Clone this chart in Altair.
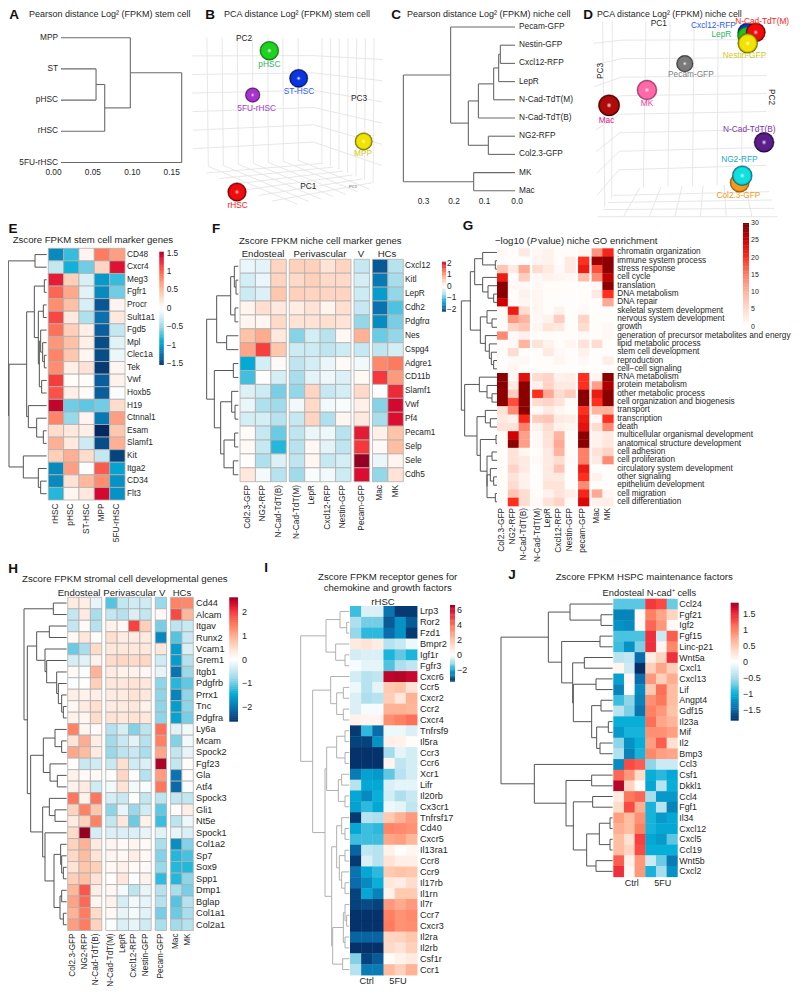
import altair as alt
import numpy as np

FONT = "Liberation Sans"
INK = "#262626"
OFF = 8  # page margin

layers = []

# ---------- colour scales ----------
Z_FRAC = [-1, -.8, -.55, -.3, -.1, 0, .12, .3, .55, .75, .9, 1]
Z_COL = ["#05326a", "#0a6cab", "#05aed8", "#9fdaea", "#e0f2f7", "#ffffff",
         "#ffeae0", "#ffc4a8", "#ff7f62", "#f73c3c", "#d90a30", "#970022"]
GO_DOM = [0, 5, 10, 15, 20, 25, 30]
GO_COL = ["#ffffff", "#ffdcd0", "#ffb4a0", "#ff7f69", "#ff2e1e", "#d20000", "#7a0000"]


def zscale(vmin, vmax):
    dom = [f * (vmax if f > 0 else -vmin) for f in Z_FRAC]
    return alt.Scale(domain=dom, range=Z_COL, interpolate="rgb")


GO_SCALE = alt.Scale(domain=GO_DOM, range=GO_COL, interpolate="rgb")


def sc(d0, d1, r0, r1):
    return alt.Scale(domain=[d0, d1], range=[r0 - OFF, r1 - OFF], nice=False, zero=False)


def text(s, x, y, size=8.3, color=INK, align="center", angle=None, bold=False, italic=False):
    kw = dict(font=FONT, fontSize=size, align=align, baseline="middle", color=color)
    if angle is not None:
        kw["angle"] = angle
    if bold:
        kw["fontWeight"] = "bold"
    if italic:
        kw["fontStyle"] = "italic"
    layers.append(alt.Chart(alt.Data(values=[{"t": s}])).mark_text(**kw).encode(
        x=alt.value(x - OFF), y=alt.value(y - OFF), text="t:N"))


def tree_segments(tree, leaf):
    segs = []
    count = [0]

    def walk(n):
        if n == 0:
            y = count[0] + .5
            count[0] += 1
            return leaf, y
        h, a, b = n
        ha, ya = walk(a)
        hb, yb = walk(b)
        segs.append(dict(a=h, b=h, c=ya, d=yb))
        segs.append(dict(a=h, b=ha, c=ya, d=ya))
        segs.append(dict(a=h, b=hb, c=yb, d=yb))
        return h, (ya + yb) / 2

    walk(tree)
    return segs


def segments(segs, xs, ys, color, width):
    layers.append(alt.Chart(alt.Data(values=segs)).mark_rule(color=color, strokeWidth=width).encode(
        x=alt.X("a:Q", scale=xs, axis=None), x2="b:Q",
        y=alt.Y("c:Q", scale=ys, axis=None), y2="d:Q"))


def colorbar(x0, x1, ytop, ybot, vtop, vbot, scale, ticks, labels, lx, size=8.3):
    ys = sc(vbot, vtop, ybot, ytop)
    xs = sc(0, 1, x0, x1)
    n = 64
    edges = np.linspace(vbot, vtop, n + 1)
    step = edges[1] - edges[0]
    cells = [dict(p=0, q=1, v0=float(edges[i]), v1=float(min(edges[i + 1] + step * .25, vtop)),
                  v=float(edges[i] + step / 2)) for i in range(n)]
    layers.append(alt.Chart(alt.Data(values=cells)).mark_rect().encode(
        x=alt.X("p:Q", scale=xs, axis=None), x2="q:Q",
        y=alt.Y("v0:Q", scale=ys, axis=None), y2="v1:Q",
        color=alt.Color("v:Q", scale=scale, legend=None)))
    rows = [dict(v=t, l=l) for t, l in zip(ticks, labels)]
    layers.append(alt.Chart(alt.Data(values=rows)).mark_text(
        font=FONT, fontSize=size, align="left", baseline="middle", color=INK).encode(
        x=alt.value(lx - OFF), y=alt.Y("v:Q", scale=ys, axis=None), text="l:N"))


def heatmap(rows, cols, mat, groups, gap, left, right, top, bottom, scale, stroke, tree, leaf,
            origin, row_x, col_y, row_size=8.3, col_size=8.3, tree_color="#555555", tree_w=1.0):
    nr, nc = len(rows), len(cols)
    cw = (right - left - gap * (len(groups) - 1)) / nc
    starts = []
    g = 0
    for gi, s in enumerate(groups):
        for k in range(s):
            starts.append(g + k + gi * gap / cw)
        g += s
    total = nc + (len(groups) - 1) * gap / cw
    xs = sc(0, total, left, right)
    ys = sc(0, nr, top, bottom)
    bleed = 0 if stroke else .04
    cells = [dict(x0=starts[j], x1=starts[j] + 1 + bleed, y0=i, y1=i + 1 + bleed, v=mat[i][j])
             for i in range(nr) for j in range(nc)]
    mk = dict(stroke=stroke, strokeWidth=.8) if stroke else dict(strokeWidth=0)
    layers.append(alt.Chart(alt.Data(values=cells)).mark_rect(**mk).encode(
        x=alt.X("x0:Q", scale=xs, axis=None), x2="x1:Q",
        y=alt.Y("y0:Q", scale=ys, axis=None), y2="y1:Q",
        color=alt.Color("v:Q", scale=scale, legend=None)))
    layers.append(alt.Chart(alt.Data(values=[dict(y=i + .5, l=r) for i, r in enumerate(rows)])).mark_text(
        font=FONT, fontSize=row_size, align="left", baseline="middle", color=INK).encode(
        x=alt.value(row_x - OFF), y=alt.Y("y:Q", scale=ys, axis=None), text="l:N"))
    if col_y is not None:
        layers.append(alt.Chart(alt.Data(values=[dict(x=starts[j] + .5, l=c) for j, c in enumerate(cols)])).mark_text(
            font=FONT, fontSize=col_size, align="right", baseline="middle", angle=270, color=INK).encode(
            x=alt.X("x:Q", scale=xs, axis=None), y=alt.value(col_y - OFF), text="l:N"))
    width = leaf + 10
    segments(tree_segments(tree, leaf), sc(0, width, origin, origin + width / 3), ys, tree_color, tree_w)


def cluster(rows, tree, leaf, xs, ys, label_x, align, ticks, ticklabels, tick_y):
    segments(tree_segments(tree, leaf), xs, ys, "#6a6a6a", 1.1)
    layers.append(alt.Chart(alt.Data(values=[dict(y=i + .5, l=r) for i, r in enumerate(rows)])).mark_text(
        font=FONT, fontSize=8.3, align=align, baseline="middle", color=INK).encode(
        x=alt.value(label_x - OFF), y=alt.Y("y:Q", scale=ys, axis=None), text="l:N"))
    layers.append(alt.Chart(alt.Data(values=[dict(x=t, l=l) for t, l in zip(ticks, ticklabels)])).mark_text(
        font=FONT, fontSize=8.3, align="center", baseline="middle", color=INK).encode(
        x=alt.X("x:Q", scale=xs, axis=None), y=alt.value(tick_y - OFF), text="l:N"))


def quad_lines(q, nu, nv):
    tl, tr, br, bl = [np.array(p, float) for p in q]
    out = []
    for i in range(1, nu):
        f = i / nu
        a = tl + (tr - tl) * f
        b = bl + (br - bl) * f
        out.append(dict(a=a[0], b=b[0], c=a[1], d=b[1]))
    for i in range(1, nv):
        f = i / nv
        a = tl + (bl - tl) * f
        b = tr + (br - tr) * f
        out.append(dict(a=a[0], b=b[0], c=a[1], d=b[1]))
    return out


def sphere(x, y, r, color, dark, xs, ys):
    grad = dict(gradient="radial", x1=.5, y1=.5, x2=.5, y2=.5, r1=0, r2=.5,
                stops=[dict(offset=0, color="#ffffff"), dict(offset=.24, color=color),
                       dict(offset=.8, color=color), dict(offset=1, color=dark)])
    layers.append(alt.Chart(alt.Data(values=[dict(x=x, y=y)])).mark_circle(
        fill=grad, stroke=dark, strokeWidth=.4, opacity=1, size=(2 * r / 3) ** 2).encode(
        x=alt.X("x:Q", scale=xs, axis=None), y=alt.Y("y:Q", scale=ys, axis=None)))


def point_labels(items, xs, ys, size=8.3):
    for s, x, y, col in items:
        layers.append(alt.Chart(alt.Data(values=[dict(x=x, y=y, l=s)])).mark_text(
            font=FONT, fontSize=size, align="center", baseline="middle", color=col).encode(
            x=alt.X("x:Q", scale=xs, axis=None), y=alt.Y("y:Q", scale=ys, axis=None), text="l:N"))


# ---------- panel letters ----------
PANEL_LETTERS = [("A", 14, 15), ("B", 210, 15), ("C", 396, 15), ("D", 588, 15), ("E", 13, 229),
                 ("F", 216, 229), ("G", 468, 226), ("H", 13, 569), ("I", 266, 568), ("J", 512, 575)]
for s, x, y in PANEL_LETTERS:
    text(s, x, y, size=13.5, color="#111111", bold=True)

# ---------- A ----------
A_ROWS = ["MPP", "ST", "pHSC", "rHSC", "5FU-rHSC"]
A_TREE = (0.1627, (0.0975, 0, (0.065, (0.054, 0, 0), 0)), 0)
A_TICKS = [0.0, 0.05, 0.10, 0.15]
A_TICKLABELS = ["0.00", "0.05", "0.10", "0.15"]
text("Pearson distance Log² (FPKM) stem cell", 29, 14, size=9, align="left")
cluster(A_ROWS, A_TREE, 0.0095, sc(0, .15, 53.5, 171.7), sc(0, 5, 22.1, 178.1), 58, "right",
        A_TICKS, A_TICKLABELS, 172.5)

# ---------- B ----------
text("PCA distance Log² (FPKM) stem cell", 224, 14, size=9, align="left")
bx, by = sc(0, 600, 190, 390), sc(0, 570, 30, 220)
B_WALLS = [([(5, 22), (370, 25), (370, 388), (10, 412)], 8, 7),
           ([(370, 25), (578, 25), (575, 470), (370, 388)], 8, 7),
           ([(10, 412), (370, 388), (575, 470), (285, 530)], 8, 7)]
for q, nu, nv in B_WALLS:
    segments(quad_lines(q, nu, nv), bx, by, "#e4e4e4", .9)
B_SPHERES = [("#1fd21f", "#0a6a10", 238, 62, 28.5), ("#0b35e0", "#04104f", 326, 145, 27.5),
             ("#a832cf", "#3d0f52", 188, 195, 22), ("#f2e400", "#5e5800", 521, 334, 26),
             ("#f40a0a", "#500303", 141, 486, 28)]
for c, d, x, y, r in B_SPHERES:
    sphere(x, y, r, c, d, bx, by)
B_LABELS = [("pHSC", 238, 106, "#2db55d"), ("ST-HSC", 327, 185, "#2f5df5"),
            ("5FU-rHSC", 200, 237, "#a040c0"), ("MPP", 519, 373, "#d6c924"),
            ("rHSC", 143, 527, "#ff2020"), ("PC2", 162, 28, INK), ("PC3", 507, 208, INK),
            ("PC1", 355, 471, INK)]
point_labels(B_LABELS, bx, by)
point_labels([("PC1", 489, 472, "#555555")], bx, by, size=4)

# ---------- C ----------
C_ROWS = ["Pecam-GFP", "Nestin-GFP", "Cxcl12-RFP", "LepR", "N-Cad-TdT(M)", "N-Cad-TdT(B)",
          "NG2-RFP", "Col2.3-GFP", "MK", "Mac"]
C_TREE = (0.366, (0.211, 0, (0.153, (0.120, (0.07, (0.0536, (0.048, 0, 0), 0), 0), 0), (0.0874, 0, 0))),
          (0.1355, 0, 0))
text("Pearson distance Log² (FPKM) niche cell", 407, 14, size=9, align="left")
cluster(C_ROWS, C_TREE, 0, sc(0, .3, 515, 423.5), sc(0, 10, 17.9, 199.9), 519, "left",
        [0.3, 0.2, 0.1, -0.007], ["0.3", "0.2", "0.1", "0.0"], 201.7)

# ---------- D ----------
text("PCA distance Log² (FPKM) niche cell", 597, 13.5, size=8.8, align="left")
dx, dy = sc(0, 645, 585, 792), sc(0, 630, 15, 225)
D_WALLS = [([(115, 20), (565, 20), (565, 505), (105, 520)], 6, 9),
           ([(25, 20), (115, 20), (105, 520), (40, 605)], 3, 9),
           ([(105, 520), (565, 505), (600, 605), (40, 605)], 7, 4)]
for q, nu, nv in D_WALLS:
    segments(quad_lines(q, nu, nv), dx, dy, "#e4e4e4", .9)
segments([dict(a=40, b=600, c=605, d=605)], dx, dy, "#e4e4e4", .9)
D_SPHERES = [("#7a7a7a", "#2a2a2a", 311, 146, 25), ("#ff69a8", "#8a2a58", 193, 225, 30),
             ("#b00a0a", "#3a0000", 75, 271, 32), ("#5a1f8a", "#1c0530", 558, 382, 30),
             ("#f59a20", "#8a4c00", 482, 503, 29), ("#10e0e0", "#056070", 490, 482, 30),
             ("#0b35e0", "#04104f", 505, 52, 28), ("#1fc21f", "#0a6a10", 503, 62, 27),
             ("#f40a0a", "#500303", 532, 52, 29), ("#f2e400", "#5e5800", 507, 85, 30)]
for c, d, x, y, r in D_SPHERES:
    sphere(x, y, r, c, d, dx, dy)
D_LABELS = [("Pecam-GFP", 330, 180, "#808080"), ("MK", 193, 266, "#f0409a"), ("Mac", 67, 318, "#e0218a"),
            ("N-Cad-TdT(B)", 512, 345, "#7a35b0"), ("NG2-RFP", 481, 435, "#20a8c8"),
            ("Col2.3-GFP", 478, 543, "#f09a20"), ("Cxcl12-RFP", 400, 32, "#2f5df5"),
            ("LepR", 425, 60, "#2db55d"), ("Nestin-GFP", 497, 122, "#d6c924"),
            ("N-Cad-TdT(M)", 552, 20, "#ff2020"), ("PC1", 230, 27, INK)]
point_labels(D_LABELS, dx, dy)
text("PC3", 601, 71, angle=270)
text("PC2", 771, 97, angle=90)

# ---------- E ----------
E_ROWS = ["CD48", "Cxcr4", "Meg3", "Fgfr1", "Procr", "Sult1a1", "Fgd5", "Mpl", "Clec1a", "Tek", "Vwf",
          "Hoxb5", "H19", "Ctnnal1", "Esam", "Slamf1", "Kit", "Itga2", "CD34", "Flt3"]
E_COLS = ["rHSC", "pHSC", "ST-HSC", "MPP", "5FU-rHSC"]
E_VALUES = [
    [-1.1, -.75, .1, .9, .7], [-.3, -.85, -.6, .35, 1.4], [1.35, .4, -.2, -1.0, -.75],
    [1.0, .65, -.15, -1.1, -.6], [.8, .5, -.2, -1.4, .1], [1.15, .2, -.4, -1.25, .2],
    [.95, .4, .15, -1.35, -.3], [.75, .5, .15, -1.45, -.15], [.85, .45, .08, -1.45, -.1],
    [.8, .15, .25, -1.55, .08], [1.2, .04, .03, -1.35, .12], [1.1, .15, .05, -1.35, -.03],
    [1.5, -.6, -.65, -.6, .3], [.85, -.5, .1, -1.2, .7], [.3, .2, .15, -1.65, .45],
    [.6, .2, -.25, -1.45, .6], [.4, .6, .3, -.3, -1.5], [-1.1, .7, -.02, 1.05, -.95],
    [-1.1, .25, .55, .8, -1.05], [-.8, .08, .2, 1.45, -1.05]]
E_TREE = (25, (105, 0, 0), (27, (80, (103, (133, 0, 0), (115, (130, 0, 0), (118, (122, 0, (128, 0, (133, 0, 0))), (125, 0, 0)))),
                                (85, 0, (110, 0, (130, 0, 0)))), (70, 0, (115, 0, (122, 0, 0)))))
E_SCALE = zscale(-1.6, 1.6)
text("Zscore FPKM stem cell marker genes", 12.7, 239.5, size=9.6, align="left")
heatmap(E_ROWS, E_COLS, E_VALUES, [5], 0, 48.3, 125, 248.3, 500, E_SCALE, "#b0b0b0", E_TREE, 140, 0, 127, 503.5)
colorbar(159.3, 163.8, 251.7, 365, 1.55, -1.53, E_SCALE, [1.5, 1, .5, 0, -.5, -1, -1.5],
         ["1.5", "1", "0.5", "0", "−0.5", "−1", "−1.5"], 166.7)

# ---------- F ----------
F_ROWS = ["Cxcl12", "Kitl", "LepR", "Cdh2", "Pdgfrα", "Nes", "Cspg4", "Adgre1", "CD11b", "Slamf1", "Vwf",
          "Pf4", "Pecam1", "Selp", "Sele", "Cdh5"]
F_COLS = ["Col2.3-GFP", "NG2-RFP", "N-Cad-TdT(B)", "N-Cad-TdT(M)", "LepR", "Cxcl12-RFP", "Nestin-GFP",
          "Pecam-GFP", "Mac", "MK"]
F_VALUES = [
    [-.15, -.2, .5, .55, .55, .35, .5, -.4, -1.9, -.5],
    [-.3, -.15, .5, .45, .55, .45, .45, -.3, -1.65, -.6],
    [-.35, -.25, .65, .55, .5, .5, .5, -.35, -1.35, -.7],
    [.15, .4, .3, .25, .35, .15, .4, -.4, -1.7, -.95],
    [.15, .12, .45, .35, .35, .4, .35, -.7, -1.5, -.8],
    [.7, .9, .3, -.75, -.3, -.5, .1, .85, -.85, -.7],
    [.95, 1.7, .65, -.35, -.35, -.45, -.35, -.4, -.45, -.3],
    [-1.25, -.3, .07, -.45, -.3, -.15, .07, -.1, 1.2, 1.3],
    [-1, .02, -.3, -.6, -.2, -.12, -.25, .08, 1.75, 1.05],
    [-.25, -.35, -.8, -.7, .5, -.4, -.3, .45, .03, 1.85],
    [-.15, -.55, -.65, -.1, .45, -.1, -.05, .2, -.75, 2.1],
    [-.3, -.3, -.5, -.4, .5, -.55, .12, .3, -.6, 2.05],
    [.05, -.4, -.85, -.45, -.15, -.12, -.5, 1.95, .2, .7],
    [.08, -.4, -1.1, -.5, .1, -.2, -.45, 1.75, .08, .75],
    [.04, -.55, -.25, -.45, .12, -.4, -.3, 2.3, -.15, .15],
    [.3, -.08, -.5, -.65, -.05, -.1, -.35, 2.05, -.7, .35]]
F_TREE = (20, (50, (92, (103, 0, (108, 0, 0)), (105, 0, 0)), (80, 0, 0)),
          (43, (100, 0, 0), (62, (95, 0, (105, 0, 0)), (72, (104, 0, 0), (100, 0, 0)))))
F_SCALE = zscale(-2.2, 2.3)
text("Zscore FPKM niche cell marker genes", 239, 241, size=9.6, align="left")
for s, x in [("Endosteal", 263), ("Perivascular", 320), ("V", 361), ("HCs", 387)]:
    text(s, x, 253.5, size=9.6)
heatmap(F_ROWS, F_COLS, F_VALUES, [3, 4, 1, 2], 3, 240, 403.3, 259.3, 481.7, F_SCALE, "#b0b0b0",
        F_TREE, 115, 200, 405, 485)
colorbar(442, 446, 261.7, 311.7, 2.2, -2.15, F_SCALE, [2, 1, 0, -1, -2], ["2", "1", "0", "−1", "−2"], 447)

# ---------- G ----------
G_ROWS = ["chromatin organization", "immune system process", "stress response", "cell cycle", "translation",
          "DNA metabolism", "DNA repair", "skeletal system development", "nervous system development", "growth",
          "generation of precursor metabolites and energy", "lipid metabolic process", "stem cell development",
          "reproduction", "cell−cell signaling", "RNA metabolism", "protein metabolism", "other metabolic process",
          "cell organization and biogenesis", "transport", "transcription", "death",
          "multicellular organismal development", "anatomical structure development", "cell adhesion",
          "cell proliferation", "circulatory system development", "other signaling", "epithelium development",
          "cell migration", "cell differentiation"]
G_COLS = ["Col2.3-GFP", "NG2-RFP", "N-Cad-TdT(B)", "N-Cad-TdT(M)", "LepR", "Cxcl12-RFP", "Nestin-GFP",
          "pecam-GFP", "Mac", "MK"]
G_VALUES = [
    [1, .5, 3, 1, 2, .5, .5, 1.5, 13, 21], [.5, .3, .3, 1.5, 2, .5, 3, 20, 28, 29],
    [8, 3, 11, 5, 3, .7, 3, 22, 18, 29], [22, .5, 7, 1, 2, 1.5, 1, 9, 14, 26],
    [29, 1, 1, 1, .5, .5, .5, .5, 1, 29], [29, .5, 2, 1.5, .5, .5, .5, .5, 3, 20],
    [25, .5, 1.5, 1.5, .3, .3, .3, .5, .5, 11], [.5, 22, 5, 1.5, .5, 2, .5, 1, .3, .3],
    [.5, 13, 10, 1, 2, 7, .5, 6, .5, .3], [.5, 6, 8, 1.5, 4, 3, .5, 5, .3, 1],
    [14, .7, 2, .5, .5, .5, .5, 1, .5, 1], [.5, 1, 10, 4, 2, .5, 1.5, 4, 5, .5],
    [.5, 5, .5, .5, 3, 1, .5, 2, .3, .3], [.3, .7, 1, .5, .5, 1.5, .5, 1, .3, 2.5],
    [.3, 1.5, .3, .3, .5, .3, .3, .5, .3, .5], [29, 1.5, 23, 5, 6, 2, 2.5, 20, 1.5, 29],
    [29, 3, 29, 2, 6, 3, 3, 20, 12, 27], [29, 7, 29, 20, 11, 5, 7, 29, 22, 29],
    [29, 18, 29, 5, 6, 4, .7, 29, 20, 29], [4, 14, 29, .7, 3, 1.5, .5, 20, 10, 10],
    [3, 2, 21, 7, 8, 3, 2.5, 22, 1, 20], [4, 4, 15, 2, 5, 2, 1.5, 23, 5, 14],
    [.5, 25, 12, 1, 4, 10, .5, 29, 2, 3], [.5, 29, 12, 1, 4, 11, .5, 29, 2, 3.5],
    [.5, 4, 1.5, .5, 3, 10, .5, 15, 4, 6], [.5, 4, 3, 1, 3, 5, .8, 15, 3, 14],
    [.3, 6, 3, .3, 3, 8, .3, 22, .3, .3], [.5, 4, 2, .5, 3, 3, .3, 20, 2, .3],
    [.3, 5, 2, .3, 4, 4, .3, 14, .3, .3], [.3, 8, 5, .5, 2, 4, 2.5, 21, 11, 1.5],
    [.3, 20, 5, .8, 4, 6, .7, 24, 2, 2.5]]
G_TREE = (28,
          (55, (68, (92, 0, (130, 0, 0)), (92, 0, (108, 0, (125, 0, 0)))),
           (85, (105, 0, (120, 0, 0)), (100, 0, (112, 0, (118, 0, (125, 0, 0)))))),
          (38, (82, 0, (105, 0, (120, 0, 0))),
           (75, (100, 0, (115, 0, 0)),
            (85, (132, 0, 0), (105, (120, 0, 0), (105, (115, 0, (125, 0, 0)), (130, 0, 0)))))))
text("−log10 (", 495, 240.7, size=9.6, align="left")
text("P", 530.3, 240.7, size=9.6, align="left", italic=True)
text("value) niche GO enrichment", 538, 240.7, size=9.6, align="left")
heatmap(G_ROWS, G_COLS, G_VALUES, [3, 4, 1, 2], 2.7, 497, 613.2, 248.3, 506, GO_SCALE, None, G_TREE, 135, 452,
        617.2, 508, row_size=8.25)
colorbar(743, 749, 223, 326.7, 30, 0, GO_SCALE, [30, 25, 20, 15, 10, 5, 0],
         ["30", "25", "20", "15", "10", "5", "0"], 751, size=7)

# ---------- H ----------
H_ROWS = ["Cd44", "Alcam", "Itgav", "Runx2", "Vcam1", "Grem1", "Itgb1", "Pdgfrb", "Prrx1", "Tnc", "Pdgfra",
          "Ly6a", "Mcam", "Spock2", "Fgf23", "Gla", "Atf4", "Spock3", "Gli1", "Nt5e", "Spock1", "Col1a2", "Sp7",
          "Sox9", "Spp1", "Dmp1", "Bglap", "Col1a1", "Col2a1"]
H_COLS = F_COLS
H_VALUES = [
    [.3, .25, -.2, -1.1, -.5, -.4, -.4, -.8, 1.4, 1.35],
    [-.5, .3, -.7, -.5, -.6, -.3, -.5, .1, 1.85, .9],
    [-.5, .08, -.6, .2, .1, 1.9, .65, -.95, -.55, -.45],
    [.1, .35, .05, .45, .3, .3, .3, -1.8, -1.1, -.45],
    [-1, -.7, .5, .35, .35, .35, .35, .35, -1.6, -.3],
    [-.35, -.25, .2, .5, .55, .5, .55, -.4, -1.6, -.6],
    [.1, -.05, .95, .3, .2, .2, .12, -.2, -2, -.8],
    [-.03, .02, .65, .35, .35, .4, .35, -.85, -1.3, -1.05],
    [.25, .2, .25, .3, .3, .4, .35, -.85, -1.85, -.85],
    [.12, .3, .45, .3, .3, .35, .2, -.85, -1.6, -.85],
    [.2, .15, .5, .4, .35, .4, .35, -.85, -1.55, -.95],
    [1.4, .15, .08, -.6, -.35, -.9, -.55, 1.55, -.25, -.12],
    [.4, 1, .25, -.75, -.45, -.25, -.6, 1.4, -.9, -.12],
    [1.05, .85, .3, -.8, -.55, -.45, -.7, 1.05, -.5, -.2],
    [.05, -.45, -.4, -.45, .45, -.4, -.3, 2.5, -.5, .05],
    [.2, .07, .1, .03, .55, .03, -.6, 1.15, -2, .05],
    [.2, .3, -.4, -.12, .4, -.12, -.07, 1.5, -2.1, -.05],
    [1.5, .2, 1.5, -.35, -.45, -.03, -.5, -.55, -.5, -.5],
    [.6, 1.4, .75, -.85, -.2, -.8, -.4, -1.05, .05, .25],
    [.3, .6, 1.4, -.5, .35, -1, .2, -1.2, -.55, -.15],
    [.5, 2.6, -.35, -.3, -.3, -.3, -.2, -.25, -.2, -.3],
    [.6, .95, .3, .15, .08, .15, .08, -.7, -1.75, -.9],
    [.55, .85, .4, .15, .1, .25, .1, -.9, -1.3, -1.15],
    [.4, .75, .65, .1, .2, .07, .07, -.8, -1.3, -1.3],
    [.65, .8, .4, .05, .35, -.05, .2, -1.25, -1.3, -.85],
    [.9, 1.75, .25, .1, -.1, -.55, -.2, -.6, -.7, -.95],
    [1.1, 1.6, .15, .2, -.35, -.12, -.2, -.6, -1.1, -.6],
    [.95, 1.45, .5, .1, -.2, -.1, -.25, -.95, -1, -.7],
    [1.15, 1.45, .6, -.05, -.3, -.2, -.4, -.7, -.75, -.6]]
H_TREE = (72, (160, 0, 0),
          (82, (110, (148, 0, 0), (135, 0, (140, 0, (170, 0, (175, 0, (185, 0, (190, 0, 0))))))),
           (92, (130, (165, 0, (185, 0, 0)), (150, 0, (172, 0, 0))),
            (128, (148, 0, (165, 0, 0)),
             (135, 0, (162, (182, 0, (185, 0, (190, 0, 0))), (180, (185, 0, 0), (190, 0, 0))))))))
H_SCALE = zscale(-2.6, 2.6)
text("Zscore FPKM stromal cell developmental genes", 22, 578.5, size=9.7, align="left")
for s, x in [("Endosteal", 79), ("Perivascular", 129.7), ("V", 162.3), ("HCs", 182)]:
    text(s, x, 592.5, size=9.6)
heatmap(H_ROWS, H_COLS, H_VALUES, [3, 4, 1, 2], 4, 67.7, 193.3, 597.3, 930.5, H_SCALE, "#b0b0b0", H_TREE, 200, 0,
        196, 933.5, row_size=9.2, col_size=8.2)
colorbar(229.3, 238, 597.3, 721.7, 2.6, -2.6, H_SCALE, [2, 1, 0, -1, -2], ["2", "1", "0", "−1", "−2"], 242, size=9)

# ---------- I ----------
I_ROWS = ["Lrp3", "Ror2", "Fzd1", "Bmpr2", "Igf1r", "Fgfr3", "Cxcr6", "Ccr5", "Cxcr2", "Ccr2", "Cxcr4", "Tnfrsf9",
          "Il5ra", "Ccr3", "Ccr6", "Xcr1", "Lifr", "Il20rb", "Cx3cr1", "Tnfrsf17", "Cd40", "Cxcr5", "Il13ra1", "Ccr8",
          "Ccr9", "Il17rb", "Il1rn", "Il7r", "Ccr7", "Cxcr3", "Il2ra", "Il2rb", "Csf1r", "Ccr1"]
I_COLS = ["Ctrl1", "Ctrl2", "Ctrl3", "5FU1", "5FU2", "5FU3"]
I_VALUES = [
    [-1.6, -.4, -.4, -2.7, -3.4, -3.4], [-.9, -1.3, -1.3, -3, -2.3, -3], [-1.1, -1.7, -1.7, -2.8, -2.3, -3.4],
    [.8, 1.0, .7, -.8, -.6, -.2], [-.5, -.4, -.4, -1.8, -1.4, -1.8], [-.1, -.3, -.3, -1.5, -.9, -.7],
    [-.5, -.8, -.7, 6.2, 6.3, 6.1], [-.2, -.8, -.3, 1.8, 2, 1.0], [-.4, -.9, -.8, 1.7, .9, 2.4],
    [-.4, -.1, -.1, 2.4, 2.4, 2.3], [.5, .4, .4, 3.3, 3.6, 3.9], [-3.4, -1.7, -2.8, -.2, -.2, -.4],
    [-3.3, -3.3, -2.3, .6, .5, .1], [-3.5, -3.5, -3.5, -1, -.3, -.5], [-3.5, -3.5, -3.5, .4, -.7, -.5],
    [-2.6, -2.1, -2.2, -1.4, -.8, -.5], [-.8, -2.0, -2.0, -.4, -.3, -.3], [-2.0, -2.4, -1.9, -.5, -.9, -.6],
    [-2.1, -1.7, -2.0, -.2, -.3, -.7], [-3.4, -.8, -.9, 1.8, 2.4, 3], [-2.0, -1.6, -1.7, 3.5, 3.4, 3.2],
    [-1.6, -1.6, -1.6, 2.7, 2.9, 2.3], [-2.9, -.7, -.8, .5, .05, .3], [-3.4, -.4, -.8, 1, .6, .6],
    [-2.7, -2.0, -1.7, 1.8, 2, 1.9], [-2.8, -2.4, -1.9, .9, .7, 1.2], [-3.3, -2, -2.5, .5, 1.8, 1.8],
    [-3.3, -3.2, -3.3, 3, 2.6, 3], [-3.5, -3.5, -3.5, 3.6, 3.2, 3.4], [-3.5, -3.5, -3.5, 3.7, 3.2, 3.3],
    [-2.9, -2.9, -2.9, 1.4, 1.5, 1.9], [-3.5, -3.5, -3.5, 1.3, 1, 1.6], [-1.2, -3.3, -3, .1, .5, .8],
    [-.8, -2.6, -2.6, 2.2, 1.6, 2.4]]
I_TREE = (32, (108, (150, 0, (170, 0, 0)), (137, 0, (165, 0, 0))),
          (68, (122, 0, (140, (160, 0, 0), (160, 0, 0))),
           (105, (110, (140, (165, 0, 0), (165, 0, 0)), (145, (155, 0, 0), (165, 0, 0))),
            (125, (140, (155, 0, (165, 0, 0)), (148, (165, 0, 0), (155, 0, (165, 0, 0)))),
             (128, (160, (165, 0, (170, 0, 0)), (165, 0, 0)), (158, 0, 0))))))
I_SCALE = zscale(-3.5, 6.6)
text("Zscore FPKM receptor genes for", 387.7, 576.7, size=9.6)
text("chemokine and growth factors", 387.7, 587.7, size=9.6)
text("rHSC", 383, 602, size=9.6)
heatmap(I_ROWS, I_COLS, I_VALUES, [6], 0, 350, 417, 606, 975, I_SCALE, None, I_TREE, 178, 290, 420, None,
        row_size=9.1, tree_color="#b0b0b0")
text("Ctrl", 366.7, 981, size=9.2)
text("5FU", 398, 981, size=9.2)
colorbar(450, 455, 605, 681.7, 6.6, -3.5, I_SCALE, [6, 4, 2, 0, -2], ["6", "4", "2", "0", "−2"], 457, size=9)

# ---------- J ----------
J_ROWS = ["Ccl24", "Fgf21", "Igf2", "Fgf15", "Linc-p21", "Wnt5a", "Cxcl1", "Cxcl13", "Lif", "Angpt4", "Gdf15",
          "Il23a", "Mif", "Il2", "Bmp3", "Ccl3", "Csf1", "Dkkl1", "Ccl4", "Fgf1", "Il34", "Cxcl12", "Cxcl5", "Ccl19",
          "Wnt5b", "Cxcl2"]
J_COLS = I_COLS
J_VALUES = [
    [-.75, -.75, -.75, 1.4, 1.3, -.7], [-1.3, -1.3, .05, 1, .75, .4], [-1.2, -1.25, .05, 1.15, .85, .05],
    [-.8, -.8, -.8, 1.45, -.3, 1.2], [-.85, -1.2, -.65, 1.45, .1, .95], [-.4, -.35, -1.45, .2, .4, 1.45],
    [.1, -.3, -1.85, .45, .75, .45], [-1.1, .08, -1.45, .85, .45, .7], [-1.3, -.03, -1.25, .5, 1.1, .6],
    [-.85, -.6, -1.3, .9, 1.05, .6], [-.4, -.65, -1.4, 1, .85, .55], [-1, -1, -1, 1.1, .75, .65],
    [-1.15, -.95, -.95, .9, .9, .8], [-.6, -1.2, -1, .8, 1.2, .3], [-.45, -1.3, -.95, .95, .8, .75],
    [-1.25, 1.3, 1.2, -.6, -.3, -.3], [1.15, .85, .35, -1, -.9, -1.05], [1.75, .4, .03, -1.05, -.4, -1],
    [.2, 1.05, 1.15, -.5, -1.15, -1.15], [.35, 1.3, .7, -.95, -.4, -1.3], [.8, .6, .9, -.95, -1.15, -1.05],
    [.7, .6, 1, -.95, -1.05, -1.05], [.6, .3, 1.35, -1.05, -1.15, -.75], [.6, .4, 1.3, -1, -1, -1],
    [1.2, .15, .85, -.3, -.7, -1.35], [1.45, .07, .85, -.95, -.5, -1.2]]
J_TREE = (33, (175, (240, 0, (333, 0, 0)),
               (215, (330, 0, 0),
                (248, (283, 0, 0),
                 (250, (318, 0, 0), (305, (333, 0, 0), (320, (355, 0, 0), (330, 0, 0))))))),
          (133, 0, (228, (305, 0, 0), (250, (308, 0, 0), (290, (328, (360, 0, 0), (360, 0, 0)), (318, 0, 0))))))
J_SCALE = zscale(-1.83, 1.84)
text("Zscore FPKM HSPC maintenance factors", 555.7, 576.7, size=9.6, align="left")
text("Endosteal N-cad⁺ cells", 649.3, 592.7, size=9.4)
heatmap(J_ROWS, J_COLS, J_VALUES, [6], 0, 613.3, 677.3, 598.7, 876.7, J_SCALE, None, J_TREE, 368, 490, 679.3, None,
        row_size=8.8)
text("Ctrl", 631.7, 882.5, size=9)
text("5FU", 662.7, 882.5, size=9)
colorbar(730.7, 738.7, 602.7, 720.7, 1.84, -1.83, J_SCALE, [1.5, 1, .5, 0, -.5, -1, -1.5],
         ["1.5", "1", "0.5", "0", "−0.5", "−1", "−1.5"], 743, size=9)

chart = alt.layer(*layers).resolve_scale(x="independent", y="independent", color="independent").properties(
    width=784, height=979, padding=0, autosize="none", background="#ffffff"
).configure_view(stroke=None)

chart.save("out.html", embed_options={"renderer": "svg", "actions": False})
